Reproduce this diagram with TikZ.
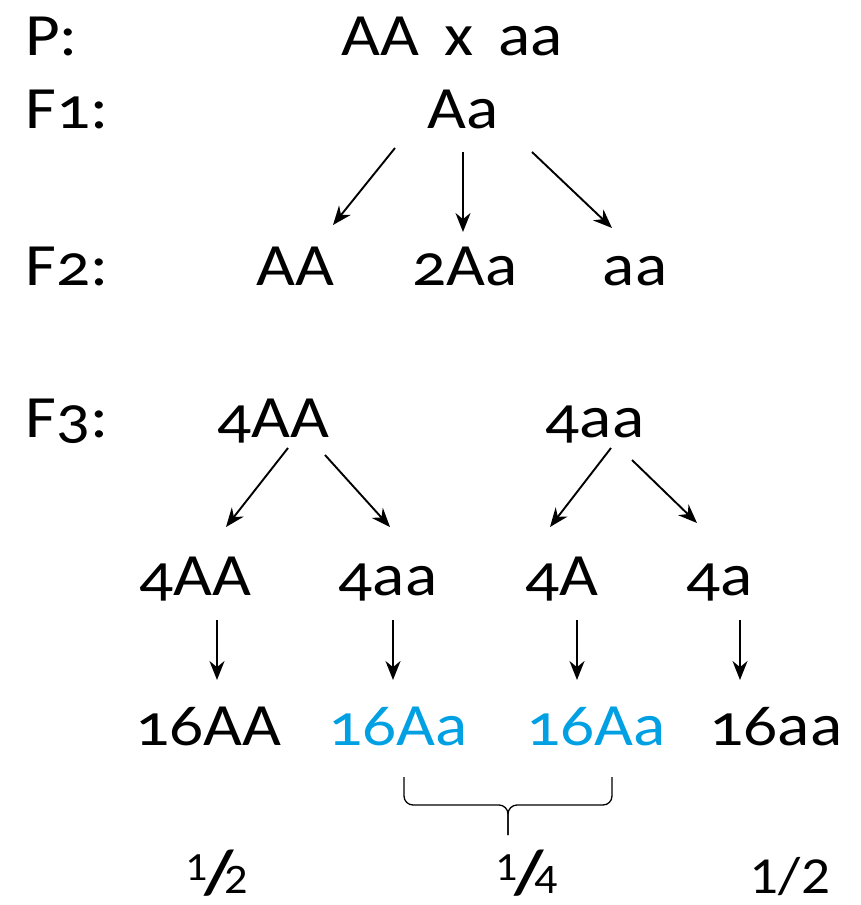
\documentclass[tikz,border=0pt]{standalone}
\usepackage{fontspec}
\setmainfont{Carlito}[Numbers=OldStyle,FakeStretch=1.12]
\newfontfamily\lining{Carlito}[Numbers=Lining,FakeStretch=1.1]
\usetikzlibrary{arrows.meta,calc}
\definecolor{hetblue}{RGB}{0,160,227}
\tikzset{
  lbl/.style={anchor=base west,inner sep=0pt,font=\fontsize{60}{64}\selectfont},
  gt/.style={anchor=base,inner sep=0pt,font=\fontsize{60}{64}\selectfont},
  het/.style={gt,text=hetblue},
  frac/.style={anchor=base,inner sep=0pt,font=\lining\fontsize{52}{56}\selectfont},
  arr/.style={line width=1.9pt,-{Stealth[length=19pt,width=15pt]}},
  bracket/.style={line width=1.3pt,rounded corners=9pt},
}
% slanted fraction built from small digits around a heavy slash
\newcommand{\slantfrac}[2]{\raisebox{13pt}{\fontsize{40}{40}\selectfont #1}\kern-4pt{\fontsize{62}{62}\bfseries\selectfont /}\kern-9pt{\fontsize{42}{42}\selectfont #2}}
\begin{document}
\begin{tikzpicture}[x=1pt,y=-1pt]
\useasboundingbox (0,0) rectangle (861,905);
% generation labels
\node[lbl] (P)  at (25,55)  {P:};
\node[lbl] (F1) at (25,128) {F1:};
\node[lbl] (F2) at (25,285) {F2:};
\node[lbl] (F3) at (25,437) {F3:};
% parents and F1
\node[gt] (cross) at (452,55) {AA\, x\, aa};
\node[gt] (f1) at (463,128) {Aa};
% F2
\node[gt] (f2a) at (295,285) {AA};
\node[gt] (f2b) at (465,285) {2Aa};
\node[gt] (f2c) at (635,285) {aa};
% F3 parents
\node[gt] (p1) at (273,437) {4AA};
\node[gt] (p2) at (595,437) {4aa};
% gametes
\node[gt] (g1) at (195,595) {4AA};
\node[gt] (g2) at (388,595) {4aa};
\node[gt] (g3) at (562,595) {4A};
\node[gt] (g4) at (720,595) {4a};
% offspring
\node[gt]  (o1) at (208,745) {16AA};
\node[het] (o2) at (398,745) {16Aa};
\node[het] (o3) at (596,745) {16Aa};
\node[gt]  (o4) at (776,745) {16aa};
% proportions
\node[frac] (r1) at (217,893) {\slantfrac{1}{2}};
\node[frac] (r2) at (527,893) {\slantfrac{1}{4}};
\node[frac] (r3) at (790,893) {1/2};
% F1 -> F2
\draw[arr] ($(f1.base)+(-68,20)$) -- ($(f2a.base)+(38,-60)$);
\draw[arr] ($(f1.base)+(0,24)$)   -- ($(f2b.base)+(-2,-53)$);
\draw[arr] ($(f1.base)+(69,24)$)  -- ($(f2c.base)+(-23,-57)$);
% F3 parents -> gametes
\draw[arr] ($(p1.base)+(15,11)$)  -- ($(g1.base)+(31,-68)$);
\draw[arr] ($(p1.base)+(52,18)$)  -- ($(g2.base)+(2,-68)$);
\draw[arr] ($(p2.base)+(16,11)$)  -- ($(g3.base)+(-12,-68)$);
\draw[arr] ($(p2.base)+(37,23)$)  -- ($(g4.base)+(-23,-72)$);
% gametes -> offspring
\draw[arr] ($(g1.base)+(22,25)$) -- ($(o1.base)+(9,-65)$);
\draw[arr] ($(g2.base)+(5,25)$)  -- ($(o2.base)+(-5,-65)$);
\draw[arr] ($(g3.base)+(15,25)$) -- ($(o3.base)+(-19,-65)$);
\draw[arr] ($(g4.base)+(20,25)$) -- ($(o4.base)+(-36,-65)$);
% bracket joining the two heterozygote groups
\coordinate (bl) at ($(o2.base)+(6,32)$);
\coordinate (br) at ($(o3.base)+(16,32)$);
\coordinate (bt) at ($(bl)!0.5!(br)+(0,58)$);
\draw[bracket] (bl) -- ++(0,28) -- (bt |- {0,805}) -- (bt);
\draw[bracket] (br) -- ++(0,28) -- (bt |- {0,805}) -- (bt);
\end{tikzpicture}
\end{document}
